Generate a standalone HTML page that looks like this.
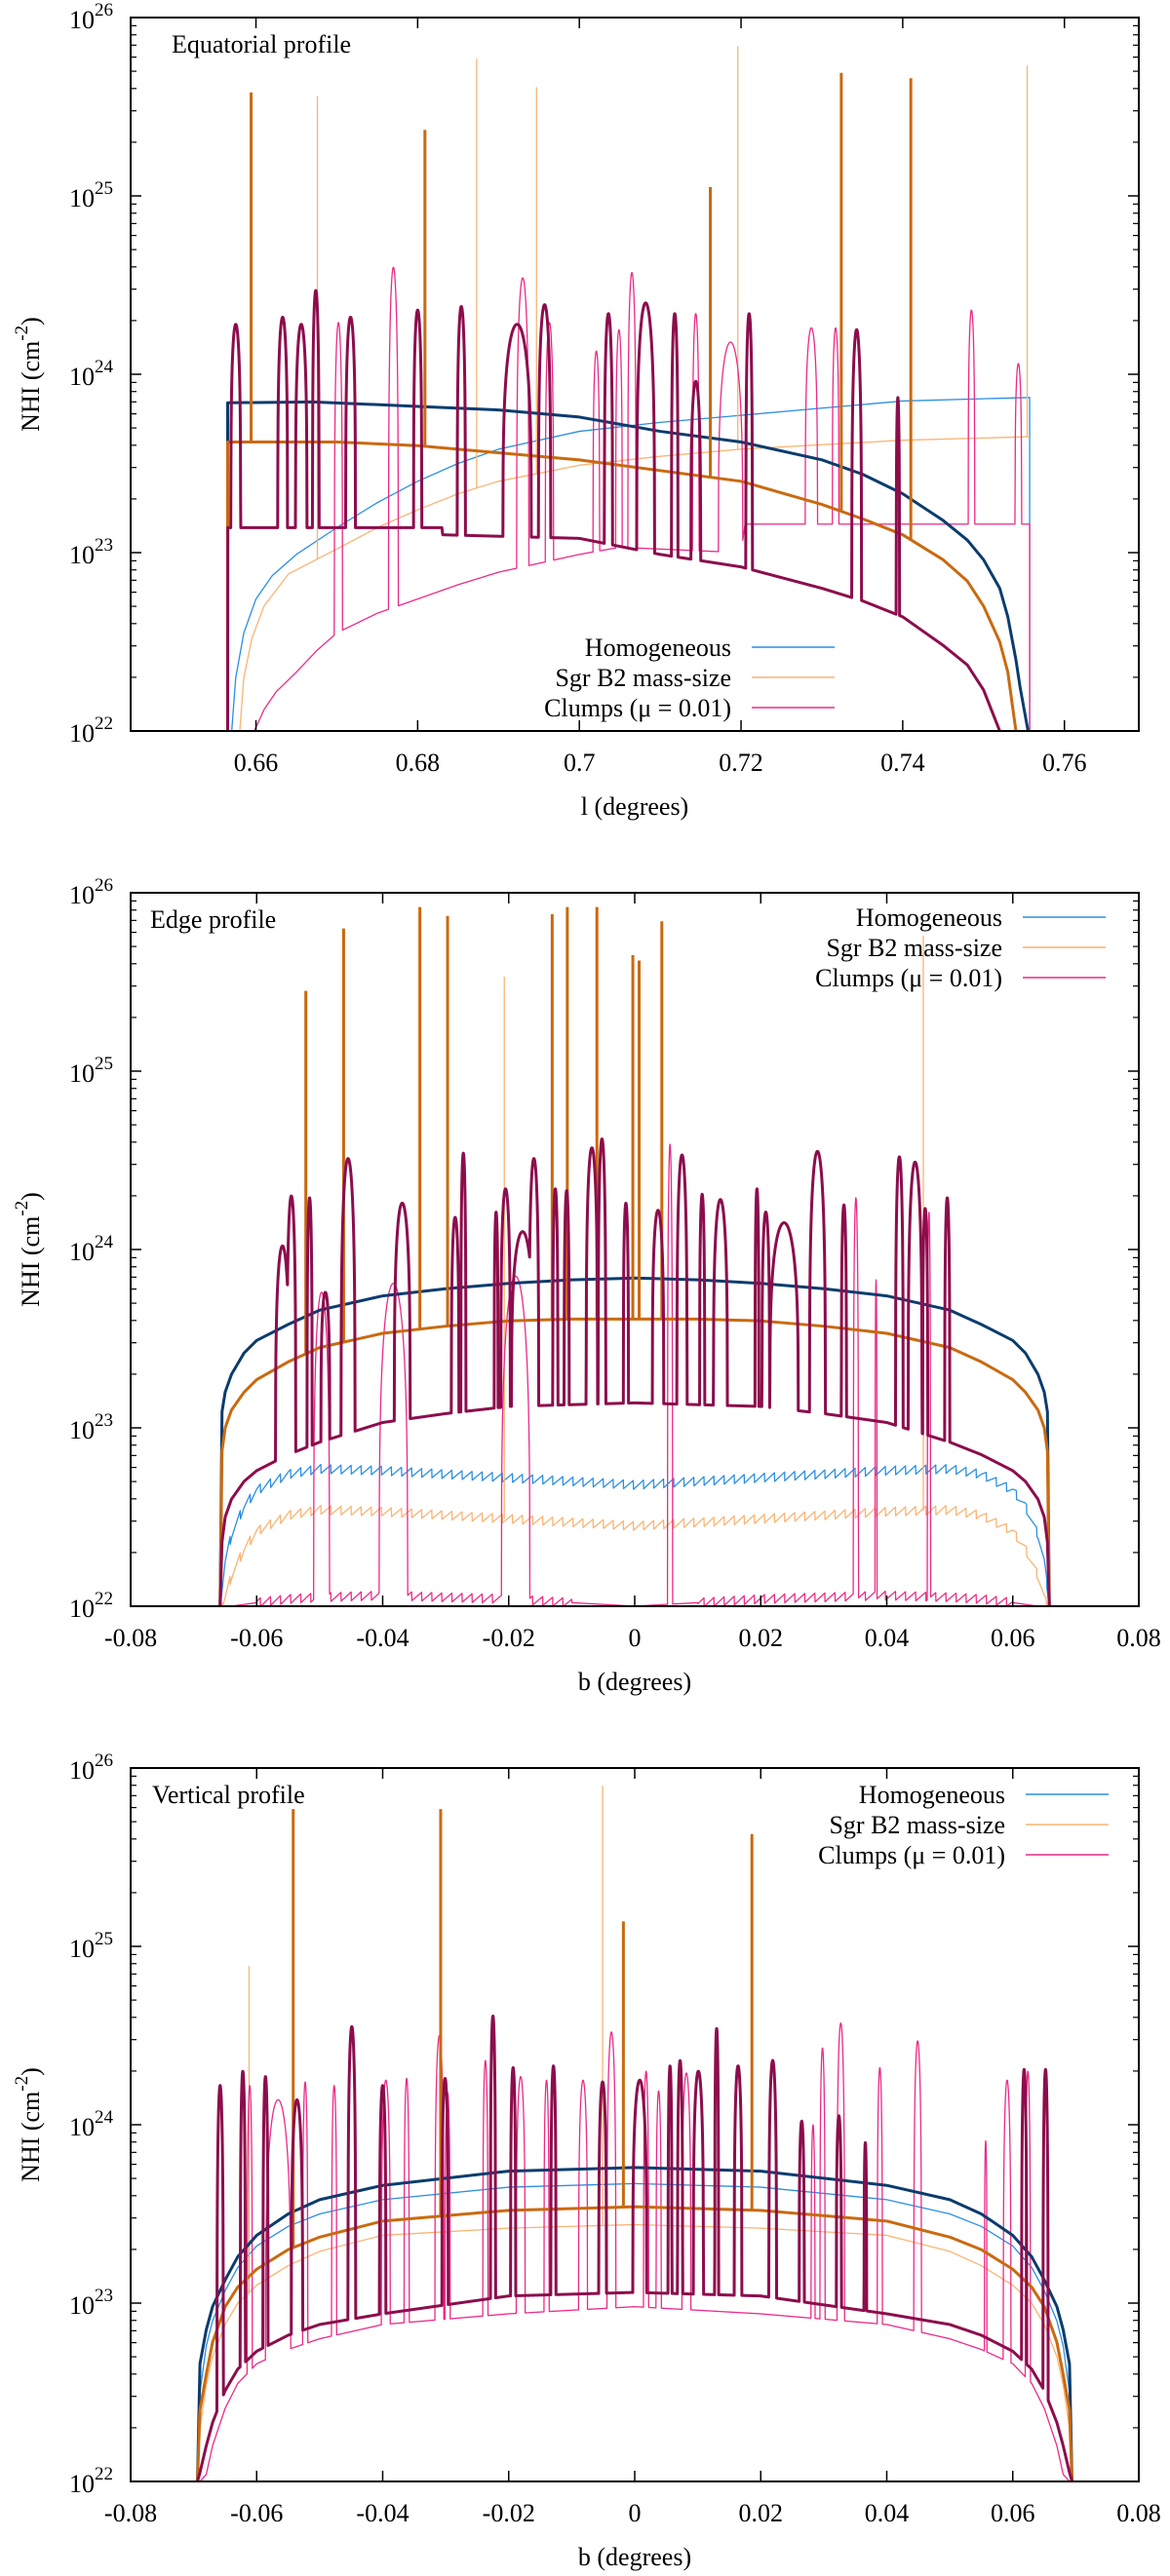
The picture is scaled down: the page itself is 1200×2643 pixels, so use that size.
<!DOCTYPE html>
<html><head><meta charset="utf-8"><style>
html,body{margin:0;padding:0;background:#fff;}
svg{display:block;font-family:"Liberation Serif",serif;}
text{font-family:"Liberation Serif",serif;}
</style></head><body>
<svg id="chart" xmlns="http://www.w3.org/2000/svg" width="1200" height="2643" viewBox="0 0 1200 2643" font-family="Liberation Serif, serif"></svg>
<script>
// ===== Panel 1 (Equatorial) data: [l, log10 NHI] =====
const p1Navy=[[0.6565,22],[0.6565,23.84],[0.667,23.845],[0.68,23.82],[0.69,23.8],[0.70,23.76],[0.71,23.68],[0.72,23.62],[0.73,23.52],[0.735,23.44],[0.74,23.33],[0.745,23.18],[0.748,23.07],[0.75,22.96],[0.752,22.8],[0.753,22.64],[0.754,22.4],[0.7545,22.25],[0.7555,22]];
const p1Orange=[[0.6565,22],[0.6565,23.62],[0.67,23.62],[0.68,23.6],[0.70,23.52],[0.72,23.4],[0.73,23.27],[0.735,23.19],[0.74,23.1],[0.745,22.96],[0.748,22.84],[0.75,22.7],[0.752,22.5],[0.753,22.33],[0.754,22]];
const p1Blue=[[0.657,22],[0.6575,22.3],[0.6585,22.55],[0.66,22.74],[0.662,22.87],[0.665,22.99],[0.67,23.14],[0.675,23.28],[0.68,23.4],[0.685,23.5],[0.69,23.58],[0.70,23.68],[0.71,23.73],[0.72,23.77],[0.73,23.81],[0.74,23.85],[0.7557,23.87],[0.7557,22]];
const p1LOrange=[[0.658,22],[0.6585,22.3],[0.6595,22.52],[0.661,22.7],[0.664,22.88],[0.67,23.02],[0.675,23.14],[0.68,23.24],[0.685,23.33],[0.69,23.4],[0.70,23.49],[0.71,23.54],[0.72,23.58],[0.74,23.63],[0.7557,23.65],[0.7557,23.65]];
const p1DM=[[0.6565,22],[0.6565,23.14],[0.683,23.14],[0.6831,23.1],[0.70,23.08],[0.71,22.99],[0.72,22.92],[0.73,22.8],[0.735,22.73],[0.74,22.64],[0.745,22.48],[0.748,22.37],[0.75,22.23],[0.752,22]];
const p1Pink=[[0.6598,22],[0.661,22.12],[0.6625,22.22],[0.665,22.33],[0.6675,22.45],[0.67,22.55],[0.675,22.66],[0.68,22.74],[0.685,22.82],[0.69,22.89],[0.695,22.94],[0.70,22.99],[0.705,23.03],[0.72,23.0],[0.7205,23.16],[0.7557,23.16],[0.7557,22]];
const p1DMClumpX=[0.6575,0.6633,0.6656,0.6674,0.6717,0.68,0.6854,0.6923,0.6957,0.7036,0.7082,0.7118,0.7144,0.721,0.7343,0.7394];
const p1DMClumpPeak=[24.28,24.32,24.28,24.47,24.32,24.36,24.38,24.28,24.39,24.34,24.4,24.34,23.96,24.34,24.25,23.87];
const p1DMClumpW=[0.0012,0.0012,0.0014,0.0008,0.0012,0.001,0.001,0.0035,0.0015,0.001,0.0022,0.0008,0.0012,0.0008,0.0012,0.0004];
const p1PinkClumpX=[0.6702,0.677,0.693,0.6963,0.7021,0.7049,0.7065,0.7144,0.7187,0.7287,0.7317,0.7485,0.7543];
const p1PinkClumpPeak=[24.29,24.6,24.54,24.29,24.13,24.25,24.57,24.34,24.18,24.26,24.26,24.36,24.06];
const p1PinkClumpW=[0.001,0.0012,0.0015,0.001,0.0008,0.0008,0.001,0.0008,0.003,0.0015,0.0008,0.0008,0.0008];
const p1OrangeSpikeX=[0.6594,0.6809,0.7162,0.7324,0.741];
const p1OrangeSpikePeak=[25.58,25.37,25.05,25.69,25.66];
const p1LOSpikeX=[0.6676,0.6873,0.6947,0.7196,0.7554];
const p1LOSpikePeak=[25.56,25.77,25.61,25.84,25.73];

// ===== Panel 2 (Edge) data: symmetric |b| grid =====
const p2AbsX=[0,0.01,0.02,0.03,0.04,0.05,0.055,0.06,0.062,0.064,0.065,0.0655,0.0658];
const p2Navy=[23.84,23.83,23.81,23.78,23.74,23.66,23.58,23.49,23.42,23.3,23.2,23.09,22];
const p2Orange=[23.61,23.61,23.6,23.57,23.53,23.45,23.37,23.27,23.2,23.1,23.0,22.87,22];
const p2DM=[23.14,23.13,23.12,23.08,23.03,22.92,22.85,22.76,22.7,22.6,22.5,22.36,22];
const p2Blue=[22.68,22.7,22.72,22.74,22.76,22.77,22.74,22.65,22.56,22.4,22.25,22.1,22];
const p2LOrange=[22.45,22.47,22.49,22.51,22.53,22.54,22.51,22.42,22.32,22.17,22.05,22.0,22];
const p2Pink=[22.0,22.02,22.04,22.05,22.06,22.05,22.04,22.02,22.01,22,22,22,22];
const p2DMClumpX=[-0.0559,-0.0545,-0.0516,-0.0491,-0.0455,-0.0369,-0.0285,-0.0272,-0.022,-0.0205,-0.0178,-0.016,-0.0126,-0.0108,-0.0068,-0.0052,-0.0014,0.0037,0.0075,0.0107,0.0136,0.0194,0.0208,0.0237,0.029,0.0332,0.042,0.0445,0.0461,0.0496];
const p2DMClumpPeak=[24.02,24.3,24.29,23.76,24.51,24.26,24.18,24.54,24.21,24.34,24.1,24.51,24.34,24.33,24.57,24.62,24.26,24.22,24.53,24.31,24.28,24.34,24.21,24.15,24.55,24.25,24.52,24.49,24.23,24.29];
const p2DMClumpW=[0.0022,0.0014,0.0008,0.0014,0.0022,0.0025,0.0012,0.0008,0.0006,0.0015,0.0035,0.0015,0.0008,0.0008,0.0018,0.0012,0.0008,0.0018,0.0016,0.0008,0.0022,0.0006,0.0012,0.0045,0.0025,0.0008,0.0012,0.0022,0.0008,0.0008];
const p2PinkClumpX=[-0.0497,-0.0383,-0.0189,0.0056,0.0351,0.0383,0.0467];
const p2PinkClumpPeak=[23.76,23.81,23.85,24.59,24.29,23.83,24.21];
const p2PinkClumpW=[0.0025,0.0045,0.0045,0.0008,0.0008,0.0003,0.0005];
const p2OrangeSpikeX=[-0.0522,-0.0462,-0.0341,-0.0297,-0.0131,-0.0107,-0.006,-0.0003,0.0007,0.0043];
const p2OrangeSpikePeak=[25.45,25.8,25.92,25.87,25.88,25.92,25.92,25.65,25.62,25.84];
const p2LOSpikeX=[-0.0207,0.0458];
const p2LOSpikePeak=[25.53,25.76];

// ===== Panel 3 (Vertical) data: symmetric |b| grid =====
const p3AbsX=[0,0.02,0.04,0.05,0.055,0.06,0.063,0.065,0.067,0.068,0.069,0.0694];
const p3Navy=[23.76,23.74,23.66,23.58,23.5,23.38,23.26,23.13,22.98,22.85,22.66,22];
const p3Blue=[23.67,23.65,23.58,23.5,23.43,23.32,23.2,23.07,22.9,22.76,22.5,22];
const p3Orange=[23.54,23.52,23.46,23.37,23.3,23.19,23.09,22.98,22.78,22.6,22.4,22];
const p3LOrange=[23.44,23.42,23.38,23.29,23.21,23.1,23.0,22.88,22.7,22.54,22.3,22];
const p3DM=[23.06,23.04,22.94,22.88,22.82,22.73,22.63,22.51,22.33,22.2,22.05,22];
const p3Pink=[22.98,22.94,22.88,22.8,22.74,22.66,22.55,22.41,22.2,22.04,22,22];
const p3DMClumpX=[-0.0658,-0.0622,-0.0586,-0.0536,-0.0449,-0.04,-0.0301,-0.0225,-0.0193,-0.0129,-0.0051,0.0008,0.0056,0.0072,0.0101,0.013,0.0164,0.0219,0.0265,0.0324,0.0366,0.0618,0.0652];
const p3DMClumpPeak=[24.22,24.3,24.27,24.14,24.55,24.22,24.26,24.61,24.32,24.33,24.24,24.25,24.33,24.36,24.3,24.54,24.33,24.36,24.02,24.05,23.9,24.31,24.31];
const p3DMClumpW=[0.001,0.0008,0.0008,0.0018,0.0012,0.001,0.001,0.0008,0.0008,0.0008,0.0012,0.0022,0.0006,0.0008,0.0016,0.0006,0.0012,0.0012,0.0008,0.0008,0.0004,0.0008,0.0008];
const p3PinkClumpX=[-0.0611,-0.0566,-0.0523,-0.0477,-0.0395,-0.0362,-0.031,-0.0297,-0.0237,-0.0181,-0.014,-0.0082,-0.0037,0.0018,0.0038,0.0082,0.0283,0.0298,0.0327,0.0389,0.0449,0.0557,0.0591,0.0624];
const p3PinkClumpPeak=[24.22,24.14,24.24,24.22,24.25,24.26,24.5,24.18,24.36,24.27,24.25,24.25,24.52,24.3,24.19,24.29,24.0,24.43,24.57,24.32,24.47,23.91,24.25,24.3];
const p3PinkClumpW=[0.0008,0.004,0.0008,0.0008,0.0014,0.0008,0.0014,0.0008,0.0008,0.0014,0.0008,0.0014,0.0014,0.0008,0.0008,0.0014,0.0006,0.0008,0.0012,0.0008,0.0012,0.0004,0.0012,0.0008];
const p3OrangeSpikeX=[-0.0542,-0.0308,-0.0018,0.0186];
const p3OrangeSpikePeak=[25.77,25.77,25.14,25.63];
const p3LOSpikeX=[-0.0612,-0.0051];
const p3LOSpikePeak=[24.89,25.9];

const p1Ticks=[0.66,0.68,0.70,0.72,0.74,0.76];
const p1TickLabels=["0.66","0.68","0.7","0.72","0.74","0.76"];
const p23Ticks=[-0.08,-0.06,-0.04,-0.02,0,0.02,0.04,0.06,0.08];
const p23TickLabels=["-0.08","-0.06","-0.04","-0.02","0","0.02","0.04","0.06","0.08"];
const yDecades=[22,23,24,25,26];

const NS="http://www.w3.org/2000/svg";
const svg=document.getElementById('chart');
const L=134,W=1034,H=732;
const FF="Liberation Serif, serif";
const C={navy:"#0b3c6e",blue:"#2b8fe3",orange:"#c96a10",lor:"#f9b474",dm:"#8c0d4c",pink:"#ec2a86"};
function el(tag,attrs,parent){const e=document.createElementNS(NS,tag);for(const k in attrs)e.setAttribute(k,attrs[k]);(parent||svg).appendChild(e);return e;}
function mirror(ax,vals){const pts=[];for(let i=ax.length-1;i>0;i--)pts.push([-ax[i],vals[i]]);for(let i=0;i<ax.length;i++)pts.push([ax[i],vals[i]]);return pts;}
function interp(pts,x){if(x<=pts[0][0])return pts[0][1];for(let i=1;i<pts.length;i++){if(x<=pts[i][0]){const a=pts[i-1],b=pts[i];if(b[0]===a[0])return b[1];return a[1]+(b[1]-a[1])*(x-a[0])/(b[0]-a[0]);}}return pts[pts.length-1][1];}

function drawPanel(idx,top,xmin,xmax,ticks,tickLabels,title,xlabel,legendPos,series){
  const g=el('g',{});
  
  
  const sx=x=>L+(x-xmin)/(xmax-xmin)*W;
  const sy=v=>top+(26-v)/4*H;
  const cid='clip'+idx;
  const cp=el('clipPath',{id:cid},g);el('rect',{x:L,y:top,width:W,height:H},cp);
  const plot=el('g',{'clip-path':'url(#'+cid+')'},g);
  
  
  function line(pts,color,w,name){
    const d=pts.map((p,i)=>(i?'L':'M')+sx(p[0]).toFixed(2)+' '+sy(p[1]).toFixed(2)).join('');
    const p=el('path',{d:d,fill:'none',stroke:color,'stroke-width':w,'stroke-linejoin':'round'},plot);
    
    
  }
  series.forEach(s=>{
    let pts=s.base;
    const x0=pts[0][0],x1=pts[pts.length-1][0];
    if(s.cx||s.jag){
      const N=4000,out=[];
      for(let i=0;i<=N;i++){
        const x=x0+(x1-x0)*i/N;let b=interp(pts,x);let v=b;
        if(s.jag&&b>22.02){v=b+0.05*(((x-x0)/0.0016)%1)-0.025;}
        if(s.cx){for(let k=0;k<s.cx.length;k++){const d=Math.abs(x-s.cx[k]),h=s.cw[k]/2;if(d<h){const c=b+(s.cp[k]-b)*Math.pow(1-(d/h)*(d/h),0.3);if(c>v)v=c;}}}
        out.push([x,v]);
      }
      pts=[[x0,22]].concat(out,[[x1,22]]);
    }
    line(pts,s.color,s.w,s.name);
    if(s.sx){for(let k=0;k<s.sx.length;k++){
      const b=interp(s.base,s.sx[k]);
      line([[s.sx[k],Math.max(b,22)],[s.sx[k],s.sp[k]]],s.color,s.w,s.name+'-spike');
    }}
  });
  const fr=el('rect',{x:L,y:top,width:W,height:H,fill:'none',stroke:'#000','stroke-width':2},g);
  
  
  yDecades.forEach(d=>{
    const y=sy(d);
    el('line',{x1:L,y1:y,x2:L+11,y2:y,stroke:'#000','stroke-width':1.5},g);
    el('line',{x1:L+W,y1:y,x2:L+W-11,y2:y,stroke:'#000','stroke-width':1.5},g);
    if(d<26){for(let m=2;m<=9;m++){const ym=sy(d+Math.log10(m));
      el('line',{x1:L,y1:ym,x2:L+6,y2:ym,stroke:'#000','stroke-width':1.2},g);
      el('line',{x1:L+W,y1:ym,x2:L+W-6,y2:ym,stroke:'#000','stroke-width':1.2},g);}}
    const t=el('text',{x:116,y:y+11,'text-anchor':'end','font-size':26,'font-family':FF},g);
    
    
    t.textContent='10';
    const sup=el('tspan',{dy:-13,'font-size':19},t);sup.textContent=String(d);
  });
  ticks.forEach((tv,i)=>{
    const x=sx(tv);
    el('line',{x1:x,y1:top+H,x2:x,y2:top+H-11,stroke:'#000','stroke-width':1.5},g);
    el('line',{x1:x,y1:top,x2:x,y2:top+11,stroke:'#000','stroke-width':1.5},g);
    const t=el('text',{x:x,y:top+H+41,'text-anchor':'middle','font-size':26,'font-family':FF},g);
    
    
    t.textContent=tickLabels[i];
  });
  const xt=el('text',{x:L+W/2,y:top+H+86,'text-anchor':'middle','font-size':26,'font-family':FF},g);
  
  
  xt.textContent=xlabel;
  const yt=el('text',{x:0,y:0,'text-anchor':'middle','font-size':26,'font-family':FF,transform:'translate(40,'+(top+H/2)+') rotate(-90)'},g);
  
  
  yt.textContent='NHI (cm';
  const ys=el('tspan',{dy:-12,'font-size':19},yt);ys.textContent='-2';
  const ye=el('tspan',{dy:12},yt);ye.textContent=')';
  const tt=el('text',{x:title[1],y:top+36,'font-size':26,'font-family':FF},g);
  
  
  tt.textContent=title[0];
  const lg=el('g',{},g);
  
  
  [["Homogeneous",C.blue],["Sgr B2 mass-size",C.lor],["Clumps (\u03bc = 0.01)",C.pink]].forEach((e,i)=>{
    const y=legendPos[1]+i*31;
    const t=el('text',{x:legendPos[0],y:y+9,'text-anchor':'end','font-size':26,'font-family':FF},lg);
    
    
    t.textContent=e[0];
    el('line',{x1:legendPos[0]+21,y1:y,x2:legendPos[0]+106,y2:y,stroke:e[1],'stroke-width':1.5},lg);
  });
}

drawPanel(1,18,0.6445,0.7692,p1Ticks,p1TickLabels,["Equatorial profile",176],"l (degrees)",[750,664],[
 {name:'homogeneous-thin',base:p1Blue,color:C.blue,w:1.3},
 {name:'mass-size-thin',base:p1LOrange,color:C.lor,w:1.3,sx:p1LOSpikeX,sp:p1LOSpikePeak},
 {name:'clumps-thin',base:p1Pink,color:C.pink,w:1.3,cx:p1PinkClumpX,cp:p1PinkClumpPeak,cw:p1PinkClumpW},
 {name:'homogeneous-thick',base:p1Navy,color:C.navy,w:3},
 {name:'mass-size-thick',base:p1Orange,color:C.orange,w:3,sx:p1OrangeSpikeX,sp:p1OrangeSpikePeak},
 {name:'clumps-thick',base:p1DM,color:C.dm,w:3,cx:p1DMClumpX,cp:p1DMClumpPeak,cw:p1DMClumpW}
]);
drawPanel(2,916,-0.08,0.08,p23Ticks,p23TickLabels,["Edge profile",154],"b (degrees)",[1028,941],[
 {name:'homogeneous-thin',base:mirror(p2AbsX,p2Blue),color:C.blue,w:1.3,jag:true},
 {name:'mass-size-thin',base:mirror(p2AbsX,p2LOrange),color:C.lor,w:1.3,jag:true,sx:p2LOSpikeX,sp:p2LOSpikePeak},
 {name:'clumps-thin',base:mirror(p2AbsX,p2Pink),color:C.pink,w:1.3,jag:true,cx:p2PinkClumpX,cp:p2PinkClumpPeak,cw:p2PinkClumpW},
 {name:'homogeneous-thick',base:mirror(p2AbsX,p2Navy),color:C.navy,w:3},
 {name:'mass-size-thick',base:mirror(p2AbsX,p2Orange),color:C.orange,w:3,sx:p2OrangeSpikeX,sp:p2OrangeSpikePeak},
 {name:'clumps-thick',base:mirror(p2AbsX,p2DM),color:C.dm,w:3,cx:p2DMClumpX,cp:p2DMClumpPeak,cw:p2DMClumpW}
]);
drawPanel(3,1814,-0.08,0.08,p23Ticks,p23TickLabels,["Vertical profile",156],"b (degrees)",[1031,1841],[
 {name:'homogeneous-thin',base:mirror(p3AbsX,p3Blue),color:C.blue,w:1.3},
 {name:'mass-size-thin',base:mirror(p3AbsX,p3LOrange),color:C.lor,w:1.3,sx:p3LOSpikeX,sp:p3LOSpikePeak},
 {name:'clumps-thin',base:mirror(p3AbsX,p3Pink),color:C.pink,w:1.3,cx:p3PinkClumpX,cp:p3PinkClumpPeak,cw:p3PinkClumpW},
 {name:'homogeneous-thick',base:mirror(p3AbsX,p3Navy),color:C.navy,w:3},
 {name:'mass-size-thick',base:mirror(p3AbsX,p3Orange),color:C.orange,w:3,sx:p3OrangeSpikeX,sp:p3OrangeSpikePeak},
 {name:'clumps-thick',base:mirror(p3AbsX,p3DM),color:C.dm,w:3,cx:p3DMClumpX,cp:p3DMClumpPeak,cw:p3DMClumpW}
]);
</script>
</body></html>
